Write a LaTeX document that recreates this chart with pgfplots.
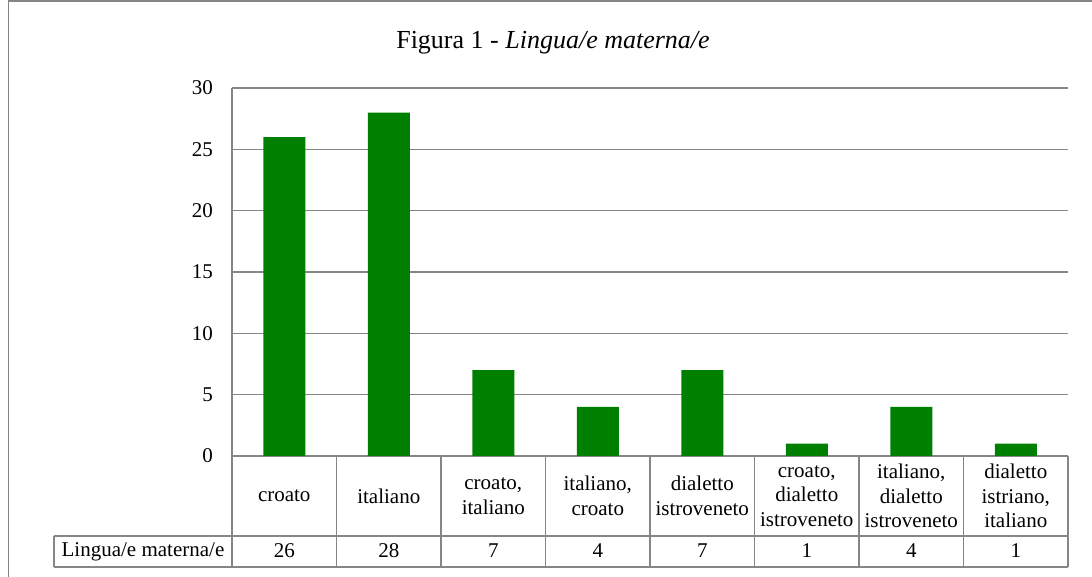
\documentclass[border=0pt]{standalone}
\usepackage{pgfplots}
\pgfplotsset{compat=1.18}
\usepackage{pgfplotstable}
\usepackage{fontspec}
\setmainfont{Liberation Serif}
\definecolor{bargreen}{RGB}{0,128,0}
\definecolor{linegray}{RGB}{134,134,134}
\pgfplotstableread{
x y
0 26
1 28
2 7
3 4
4 7
5 1
6 4
7 1
}\datatable
\newcommand{\bodyfont}{\fontsize{21}{24.5}\selectfont}
\begin{document}
\begin{tikzpicture}
\useasboundingbox (0pt,0pt) rectangle (1092pt,577pt);
% outer frame
\draw[linegray, line width=1.5pt] (8.7pt,0pt) -- (8.7pt,576pt) -- (1092pt,576pt);
% title
\node[font=\fontsize{26}{30}\selectfont, anchor=center] at (553pt,534pt) {Figura 1 - \textit{Lingua/e materna/e}};
\begin{axis}[
  at={(232pt,121pt)}, anchor=south west,
  scale only axis, width=836pt, height=368pt,
  xmin=-0.5, xmax=7.5, ymin=0, ymax=30,
  ytick={0,5,...,30},
  xtick={0,...,7},
  xticklabels={croato, italiano, {croato,\\italiano}, {italiano,\\croato}, {dialetto\\istroveneto}, {croato,\\dialetto\\istroveneto}, {italiano,\\dialetto\\istroveneto}, {dialetto\\istriano,\\italiano}},
  major tick length=0pt,
  axis line style={draw=none},
  ymajorgrids, grid style={linegray, line width=1.4pt},
  /pgf/number format/assume math mode=true,
  yticklabel style={font=\bodyfont, inner sep=0pt, anchor=east, xshift=-19pt},
  xticklabel style={font=\bodyfont, inner sep=0pt, anchor=center, align=center, yshift=-40pt},
  clip=false,
]
\addplot[ybar, bar width=42pt, fill=bargreen, draw=none] table[x=x, y=y] {\datatable};
\addplot[draw=none, mark=none, nodes near coords, point meta=explicit,
  nodes near coords style={font=\bodyfont, anchor=center, inner sep=0pt,
    /pgf/number format/assume math mode=true}]
  table[x=x, y expr=-7.745, meta=y] {\datatable};
\end{axis}
% axis left line
\draw[linegray, line width=1.5pt] (232pt,121pt) -- (232pt,489pt);
% data table lines
\foreach \k in {0,...,8} {
  \pgfmathsetmacro{\xx}{232+\k*104.5}
  \draw[linegray, line width=1.5pt] (\xx pt,121pt) -- (\xx pt,10pt);
}
\draw[linegray, line width=1.5pt] (54pt,41pt) -- (1068pt,41pt);
\draw[linegray, line width=1.5pt] (54pt,10pt) -- (1068pt,10pt);
\draw[linegray, line width=1.5pt] (54pt,41pt) -- (54pt,10pt);
\node[font=\bodyfont, anchor=center, inner sep=0pt] at (143pt,25.5pt) {Lingua/e materna/e};
\end{tikzpicture}
\end{document}
